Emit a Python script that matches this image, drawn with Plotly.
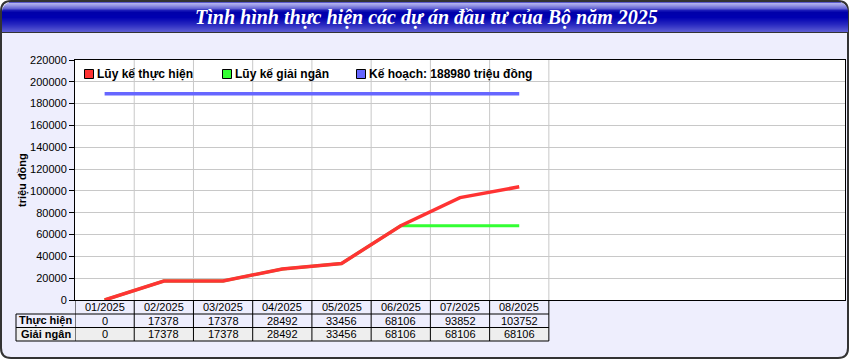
import plotly.graph_objects as go
import math

months = ["01/2025", "02/2025", "03/2025", "04/2025", "05/2025", "06/2025", "07/2025", "08/2025"]
thuc_hien = [0, 17378, 17378, 28492, 33456, 68106, 93852, 103752]
giai_ngan = [0, 17378, 17378, 28492, 33456, 68106, 68106, 68106]
ke_hoach_value = 188980
ke_hoach = [ke_hoach_value] * len(months)
row_labels = ["Thực hiện", "Giải ngân"]
title_text = "Tình hình thực hiện các dự án đầu tư của Bộ năm 2025"
y_title = "triệu đồng"
legend_labels = ["Lũy kế thực hiện", "Lũy kế giải ngân", f"Kế hoạch: {ke_hoach_value} triệu đồng"]

W, H = 850, 360
RED, GREEN, BLUE = "#FF3333", "#33FF33", "#6666FF"
BG = "#EEEEFD"
FONT = "Arial, Liberation Sans, sans-serif"

def px(x):
    return x / W

def py(y):
    return 1 - y / H

PL, PR, PT, PB = 75, 845, 60, 300
n = len(months)
xidx = list(range(n))

fig = go.Figure()
fig.add_trace(go.Scatter(x=xidx, y=ke_hoach, mode="lines", line=dict(color=BLUE, width=3.5), showlegend=False, hoverinfo="skip"))
fig.add_trace(go.Scatter(x=xidx, y=giai_ngan, mode="lines", line=dict(color=GREEN, width=3), showlegend=False, hoverinfo="skip"))
fig.add_trace(go.Scatter(x=xidx, y=thuc_hien, mode="lines", line=dict(color=RED, width=3.5), showlegend=False, hoverinfo="skip"))

shapes = []
annotations = []

def rrect_path(x0, y0, x1, y1, r):
    rx, ry = r / W, r / H
    X0, X1, Y0, Y1 = px(x0), px(x1), py(y0), py(y1)
    return (f"M {X0+rx},{Y0} L {X1-rx},{Y0} Q {X1},{Y0} {X1},{Y0-ry} "
            f"L {X1},{Y1+ry} Q {X1},{Y1} {X1-rx},{Y1} "
            f"L {X0+rx},{Y1} Q {X0},{Y1} {X0},{Y1+ry} "
            f"L {X0},{Y0-ry} Q {X0},{Y0} {X0+rx},{Y0} Z")

shapes.append(dict(type="path", xref="paper", yref="paper", path=rrect_path(1, 1, 848, 358, 10),
                   fillcolor=BG, line=dict(color="#333333", width=2), layer="below"))

stops = [(2, (90, 90, 204)), (3, (176, 176, 238)), (5, (150, 150, 228)), (8, (100, 100, 212)),
         (10, (26, 26, 184)), (12, (0, 0, 170)), (17, (0, 0, 176)), (24, (40, 40, 192)), (31, (90, 90, 210))]

def grad(y):
    for (ya, ca), (yb, cb) in zip(stops[:-1], stops[1:]):
        if ya <= y <= yb:
            t = (y - ya) / (yb - ya) if yb > ya else 0
            return "rgb(%d,%d,%d)" % tuple(round(a + (b - a) * t) for a, b in zip(ca, cb))
    return "rgb(%d,%d,%d)" % stops[-1][1]

r = 10
for y in range(2, 32):
    dy = y - 2 + 0.5
    inset = r - math.sqrt(max(r * r - (r - dy) ** 2, 0)) if dy < r else 0
    shapes.append(dict(type="rect", xref="paper", yref="paper", x0=px(2 + inset), x1=px(848 - inset),
                       y0=py(y + 1), y1=py(y), fillcolor=grad(y), line=dict(width=0), layer="below"))
shapes.append(dict(type="line", xref="paper", yref="paper", x0=px(1), x1=px(848), y0=py(32.5), y1=py(32.5),
                   line=dict(color="#333333", width=1), layer="below"))

shapes.append(dict(type="rect", xref="paper", yref="paper", x0=px(PL), x1=px(PR), y0=py(PB), y1=py(PT),
                   fillcolor="white", line=dict(width=0), layer="below"))

for i in range(n):
    shapes.append(dict(type="line", xref="x", yref="paper", x0=i + 0.5, x1=i + 0.5, y0=py(PB), y1=py(PT),
                       line=dict(color="#C8C8C8", width=1), layer="below"))

row_y = [PB, 314, 327.5, 341]
LBL_L = 16
shapes.append(dict(type="rect", xref="paper", yref="paper", x0=px(LBL_L), x1=px(PL), y0=py(row_y[3]), y1=py(row_y[2]),
                   fillcolor="#EEEEEE", line=dict(width=0), layer="below"))
shapes.append(dict(type="rect", xref="x", yref="paper", x0=-0.5, x1=n - 0.5, y0=py(row_y[3]), y1=py(row_y[2]),
                   fillcolor="#EEEEEE", line=dict(width=0), layer="below"))
for yy in row_y[1:]:
    shapes.append(dict(type="line", xref="paper", yref="paper", x0=px(LBL_L), x1=px(PL), y0=py(yy), y1=py(yy),
                       line=dict(color="black", width=1), layer="above"))
    shapes.append(dict(type="line", xref="x", yref="paper", x0=-0.5, x1=n - 0.5, y0=py(yy), y1=py(yy),
                       line=dict(color="black", width=1), layer="above"))
for i in range(n + 1):
    shapes.append(dict(type="line", xref="x", yref="paper", x0=i - 0.5, x1=i - 0.5, y0=py(row_y[0]), y1=py(row_y[3]),
                       line=dict(color="black", width=1), layer="above"))
shapes.append(dict(type="line", xref="paper", yref="paper", x0=px(LBL_L), x1=px(LBL_L), y0=py(row_y[1]), y1=py(row_y[3]),
                   line=dict(color="black", width=1), layer="above"))

cell_font = dict(family=FONT, size=11, color="black")
row_centers = [(row_y[k] + row_y[k + 1]) / 2 for k in range(3)]
for i, m in enumerate(months):
    annotations.append(dict(x=i, y=py(row_centers[0]), xref="x", yref="paper", text=m, showarrow=False,
                            font=cell_font, xanchor="center", yanchor="middle"))
    annotations.append(dict(x=i, y=py(row_centers[1]), xref="x", yref="paper", text=str(thuc_hien[i]), showarrow=False,
                            font=cell_font, xanchor="center", yanchor="middle"))
    annotations.append(dict(x=i, y=py(row_centers[2]), xref="x", yref="paper", text=str(giai_ngan[i]), showarrow=False,
                            font=cell_font, xanchor="center", yanchor="middle"))
for k, lbl in enumerate(row_labels):
    annotations.append(dict(x=px((LBL_L + PL) / 2), y=py(row_centers[k + 1]), xref="paper", yref="paper",
                            text=f"<b>{lbl}</b>", showarrow=False, font=cell_font, xanchor="center", yanchor="middle"))

leg_sq_x = [84, 222, 356]
leg_colors = [RED, GREEN, BLUE]
for xs, c, lbl in zip(leg_sq_x, leg_colors, legend_labels):
    shapes.append(dict(type="rect", xref="paper", yref="paper", x0=px(xs + 0.5), x1=px(xs + 9.5), y0=py(78.5), y1=py(69.5),
                       fillcolor=c, line=dict(color="black", width=1), layer="above"))
    annotations.append(dict(x=px(xs + 12), y=py(74.5), xref="paper", yref="paper", text=f"<b>{lbl}</b>",
                            showarrow=False, font=dict(family=FONT, size=12, color="black"),
                            xanchor="left", yanchor="middle", borderpad=0))

annotations.append(dict(x=px(22), y=py(180), xref="paper", yref="paper", text=f"<b>{y_title}</b>", textangle=-90,
                        showarrow=False, font=dict(family=FONT, size=11, color="black"), xanchor="center", yanchor="middle"))

annotations.append(dict(x=px(426), y=py(17), xref="paper", yref="paper", text=f"<b><i>{title_text}</i></b>",
                        showarrow=False, font=dict(family="Liberation Serif, Times New Roman, serif", size=20, color="white"),
                        xanchor="center", yanchor="middle"))

fig.update_layout(
    width=W, height=H, margin=dict(l=0, r=0, t=0, b=0, pad=0, autoexpand=False),
    paper_bgcolor="white", plot_bgcolor="white",
    shapes=shapes, annotations=annotations, showlegend=False,
    xaxis=dict(domain=[px(PL), px(PR)], range=[-0.5, 12.5], showgrid=False, zeroline=False,
               showticklabels=False, ticks="", showline=True, mirror=True, linecolor="black", linewidth=1,
               fixedrange=True, automargin=False),
    yaxis=dict(domain=[py(PB), py(PT)], range=[0, 220000], dtick=20000, tick0=0, tickformat="d", showgrid=True,
               gridcolor="#C8C8C8", gridwidth=1, zeroline=False, ticks="outside", ticklen=5, tickcolor="black",
               tickfont=dict(family=FONT, size=11, color="black"), showline=True, mirror=True,
               linecolor="black", linewidth=1, fixedrange=True, automargin=False),
)

fig.write_html("out.html")
